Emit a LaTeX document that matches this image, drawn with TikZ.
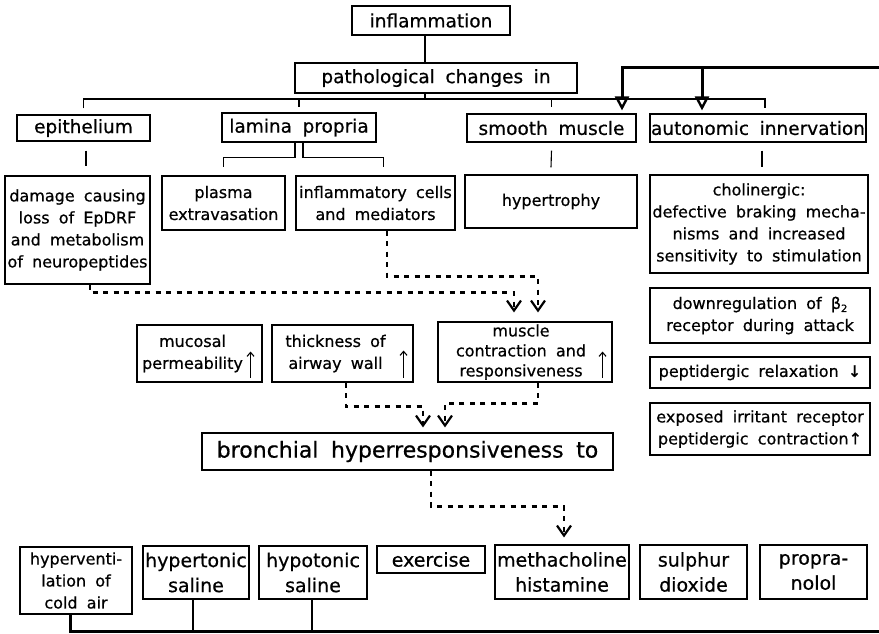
\documentclass[tikz,border=0pt]{standalone}
\usepackage{fontspec}
\setmainfont{DejaVu Sans}[WordSpace={1.8},UprightFeatures={FakeBold=0.6}]
\usetikzlibrary{arrows.meta,calc}
\newcommand\mybox[7][]{\node[box,#1,minimum width={(#4-#3)*1pt},minimum height={(#6-#5)*1pt}] (#2) at ({(#3+#4)/2},{(#5+#6)/2}) {#7};}
\begin{document}
\begin{tikzpicture}[x=1pt,y=-1pt,
  box/.style={draw, line width=1.1pt, inner sep=0pt, align=center},
  big/.style={font=\fontsize{18.5}{22}\selectfont},
  small/.style={font=\fontsize{16}{22}\selectfont},
  low/.style={font=\fontsize{19}{25}\selectfont},
  huge1/.style={font=\fontsize{22}{26}\selectfont},
  thinl/.style={line width=1.1pt},
  boldl/.style={line width=3pt},
  midl/.style={line width=1.8pt},
  dsh/.style={line width=2.4pt, dash pattern=on 5pt off 5.5pt, -{Straight Barb[length=10pt,width=14pt,line width=2.2pt]}},
  bigtip/.style={-{Triangle[open,length=14pt,width=14pt,line width=2.4pt]}},
  inarr/.style={line width=1.1pt, -{Straight Barb[length=4pt,width=7pt]}}]
\fill[white] (0,0) rectangle (879,633);
\useasboundingbox (0,0) rectangle (879,633);
% top level
\mybox[big]{infl}{352}{510}{6}{35}{inflammation}
\mybox[big]{path}{295}{577}{63}{93}{pathological changes in}
\mybox[big]{epith}{17}{150}{115}{141}{epithelium}
\mybox[big]{lamina}{222}{376}{113}{142}{lamina propria}
\mybox[big]{smooth}{467}{636}{114}{142}{smooth muscle}
\mybox[big]{auton}{650}{866}{114}{142}{autonomic innervation}
% second level
\mybox[small]{damage}{5}{150}{176}{284}{damage causing\\loss of EpDRF\\and metabolism\\of neuropeptides}
\mybox[small]{plasma}{162}{285}{176}{230}{plasma\\extravasation}
\mybox[small]{inflc}{296}{455}{176}{230}{inflammatory cells\\and mediators}
\mybox[small]{hyper}{465}{637}{175}{228}{hypertrophy}
\mybox[small]{cholin}{650}{868}{175}{273}{cholinergic:\\defective braking mecha-\\nisms and increased\\sensitivity to stimulation}
\mybox[small]{downreg}{650}{870}{288}{343}{downregulation of β{\fontsize{10}{10}\selectfont\raisebox{-3pt}{2}}\\receptor during attack}
\mybox[small]{peprel}{650}{870}{357}{388}{peptidergic relaxation ↓}
\mybox[small]{expo}{650}{870}{403}{455}{exposed irritant receptor\\peptidergic contraction↑}
% middle
\mybox{muc}{137}{262}{325}{382}{}
\mybox{thick}{272}{413}{325}{382}{}
\mybox{musc}{438}{612}{322}{382}{}
\node[small,align=center] (muct) at ($(muc.center)+(-7,0)$) {mucosal\\permeability};
\node[small,align=center] (thickt) at ($(thick.center)+(-7,0)$) {thickness of\\airway wall};
\node[font=\fontsize{16}{20}\selectfont,align=center] (musct) at ($(musc.center)+(-4,0)$) {muscle\\contraction and\\responsiveness};
\draw[inarr] ($(muc.south east)+(-12,-5)$) -- ++(0,-26);
\draw[inarr] ($(thick.south east)+(-10,-5)$) -- ++(0,-27);
\draw[inarr] ($(musc.south east)+(-10,-5)$) -- ++(0,-26);
\mybox[huge1]{bronch}{202}{613}{433}{470}{bronchial hyperresponsiveness to}
% bottom row
\mybox[small]{hypv}{20}{132}{547}{614}{hyperventi-\\lation of\\cold air}
\mybox[low]{hypt}{143}{249}{546}{599}{hypertonic\\saline}
\mybox[low]{hypo}{259}{367}{546}{599}{hypotonic\\saline}
\mybox[low]{exer}{377}{485}{546}{573}{exercise}
\mybox[low]{metha}{495}{629}{545}{599}{methacholine\\histamine}
\mybox[low]{sulph}{640}{747}{545}{599}{sulphur\\dioxide}
\mybox[low]{propr}{760}{867}{545}{599}{propra-\\nolol}
% tree connectors
\coordinate (tx) at (425,0);
\coordinate (bar) at (0,99);
\coordinate (rdrop) at (765,108);
\draw[thinl] (infl.south -| tx) -- (path.north -| tx);
\draw[thinl] (path.south -| tx) -- (tx |- bar);
\draw[thinl] ($(epith.north)+(0,-6)$) |- (bar -| rdrop) -- (rdrop);
\draw[thinl] (lamina.north |- bar) -- ($(lamina.north)+(0,-5)$);
\draw[thinl] (smooth.north |- bar) -- ($(smooth.north)+(0,-6)$);
% bold top
\coordinate (bR) at (879,67);
\coordinate (a1) at (622,67);
\coordinate (a2) at (702,67);
\draw[boldl,bigtip] (bR) -- (a1) -- ($(smooth.north -| a1)+(0,-3)$);
\draw[boldl,bigtip] (a2) -- ($(auton.north -| a2)+(0,-3)$);
% second level connectors
\coordinate (ex) at (86,0);
\coordinate (cx) at (762,0);
\draw[thinl] ($(epith.south -| ex)+(0,9)$) -- ($(damage.north -| ex)+(0,-9)$);
\draw[thinl] ($(lamina.south)+(-4,0)$) -- ++(0,15) -| ($(plasma.north)+(0,-8)$);
\draw[thinl] ($(lamina.south)+(4,0)$) -- ++(0,15) -| ($(inflc.north)+(8,-8)$);
\draw[thinl] ($(smooth.south)+(0,8)$) -- ($(hyper.north)+(0,-7)$);
\draw[thinl] ($(auton.south -| cx)+(0,8)$) -- ($(cholin.north -| cx)+(0,-7)$);
% dashed
\draw[dsh] ($(inflc.south)+(11.5,0)$) |- ($(musc.north)+(13,-45)$) -- ($(musc.north)+(13,-9)$);
\draw[dsh] ($(damage.south)+(12.5,0)$) |- ($(musc.north)+(-11,-29)$) -- ($(musc.north)+(-11,-9)$);
\draw[dsh] ($(thick.south)+(3.5,0)$) |- ($(bronch.north)+(15.5,-26)$) -- ($(bronch.north)+(15.5,-5)$);
\draw[dsh] ($(musc.south)+(13,0)$) |- ($(bronch.north)+(37.5,-29)$) -- ($(bronch.north)+(37.5,-5)$);
\draw[dsh] ($(bronch.south)+(23.5,0)$) |- ($(metha.north)+(2,-38)$) -- ($(metha.north)+(2,-7)$);
% bottom bold
\coordinate (bB) at (879,631);
\coordinate (h1) at ($(hypt.south)+(-3,0)$);
\coordinate (h2) at ($(hypo.south)+(-1,0)$);
\draw[boldl] ($(hypv.south)+(-6,0)$) |- (bB);
\draw[midl] (h1) -- (h1 |- bB);
\draw[midl] (h2) -- (h2 |- bB);
\end{tikzpicture}
\end{document}
